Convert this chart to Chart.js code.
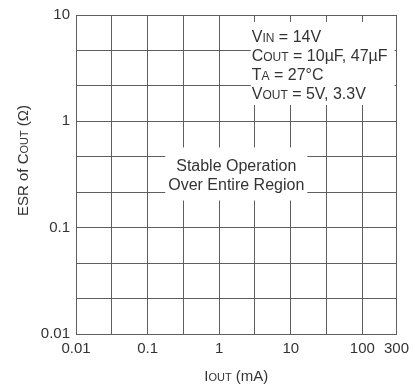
<!DOCTYPE html>
<html>
<head>
<meta charset="utf-8">
<script src="https://cdn.jsdelivr.net/npm/chart.js@4/dist/chart.umd.min.js"></script>
<style>
  html, body { margin: 0; padding: 0; background: #fff; }
  #wrap { width: 415px; height: 386px; }
</style>
</head>
<body>
<div id="wrap"><canvas id="c" width="415" height="386"></canvas></div>
<script>
// ---- data ----
const xTicks = [0.01, 0.0316, 0.1, 0.316, 1, 3.16, 10, 31.6, 100, 300];
const xTickLabels = ['0.01', '', '0.1', '', '1', '', '10', '', '100', '300'];
const yTicks = [0.01, 0.0215, 0.0464, 0.1, 0.215, 0.464, 1, 2.15, 4.64, 10];
const yTickLabels = ['0.01', '', '', '0.1', '', '', '1', '', '', '10'];
const xMin = 0.01, xMax = 300;
const yMin = 0.01, yMax = 10;

// text runs: [text, smallCaps]
const xTitle = [['I', 0], ['OUT', 1], [' (mA)', 0]];
const yTitle = [['ESR of C', 0], ['OUT', 1], [' (\u03A9)', 0]];
const conditions = [
  [['V', 0], ['IN', 1], [' = 14V', 0]],
  [['C', 0], ['OUT', 1], [' = 10\u00B5F, 47\u00B5F', 0]],
  [['T', 0], ['A', 1], [' = 27\u00B0C', 0]],
  [['V', 0], ['OUT', 1], [' = 5V, 3.3V', 0]]
];
const regionLabel = ['Stable Operation', 'Over Entire Region'];
// anchor of the conditions block in data units (mA, ohm)
const condAnchor = { x: 2.85, y: 5.58 };

const FAMILY = '"Liberation Sans", Arial, Helvetica, sans-serif';
const TEXT = '#333333';
const GRID = '#5e5e5e';

function fontFor(small, big) {
  if (big) return (small ? '12px ' : '16px ') + FAMILY;
  return (small ? '11px ' : '15px ') + FAMILY;
}
function runsWidth(ctx, runs, big) {
  let w = 0;
  for (const [t, s] of runs) { ctx.font = fontFor(s, big); w += ctx.measureText(t).width; }
  return w;
}
function drawRuns(ctx, runs, x, y, align, big) {
  const w = runsWidth(ctx, runs, big);
  let cx = align === 'center' ? x - w / 2 : x;
  ctx.textAlign = 'left';
  ctx.textBaseline = 'alphabetic';
  for (const [t, s] of runs) {
    ctx.font = fontFor(s, big);
    ctx.fillText(t, cx, y);
    cx += ctx.measureText(t).width;
  }
  return w;
}

const annotations = {
  id: 'annotations',
  afterDraw(chart) {
    const ctx = chart.ctx;
    const xs = chart.scales.x, ys = chart.scales.y;
    const area = chart.chartArea;
    ctx.save();
    ctx.fillStyle = TEXT;

    // conditions block
    const lx = xs.getPixelForValue(condAnchor.x);
    const by = ys.getPixelForValue(condAnchor.y);
    let maxW = 0;
    conditions.forEach(r => { maxW = Math.max(maxW, runsWidth(ctx, r, true)); });
    ctx.fillStyle = '#ffffff';
    ctx.fillRect(lx - 1, by - 20, maxW + 8, 19 * 3 + 26);
    ctx.fillStyle = TEXT;
    conditions.forEach((r, i) => drawRuns(ctx, r, lx, by + i * 19, 'left', true));

    // region label
    const cx = (area.left + area.right) / 2;
    const cy = (area.top + area.bottom) / 2;
    ctx.font = fontFor(0, true);
    let rw = 0;
    regionLabel.forEach(t => { rw = Math.max(rw, ctx.measureText(t).width); });
    ctx.fillStyle = '#ffffff';
    ctx.fillRect(cx - rw / 2 - 3, cy - 27, rw + 6, 53);
    ctx.fillStyle = TEXT;
    ctx.textAlign = 'center';
    ctx.textBaseline = 'alphabetic';
    regionLabel.forEach((t, i) => ctx.fillText(t, cx, cy - 4 + i * 19));

    // axis titles
    drawRuns(ctx, xTitle, cx, 381, 'center', false);
    ctx.translate(27.5, 160.5);
    ctx.rotate(-Math.PI / 2);
    drawRuns(ctx, yTitle, 0, 0, 'center', false);
    ctx.restore();
  }
};

function axis(ticks, labels, min, max) {
  return {
    type: 'logarithmic',
    min: min, max: max,
    afterBuildTicks: (s) => { s.ticks = ticks.map(v => ({ value: v })); },
    ticks: {
      autoSkip: false, maxRotation: 0, minRotation: 0,
      color: TEXT,
      font: { family: FAMILY, size: 15 },
      callback: (v, i) => labels[i],
    },
    grid: { color: GRID, lineWidth: 1, drawTicks: false },
    border: { display: true, color: GRID, width: 1 }
  };
}

const xScale = axis(xTicks, xTickLabels, xMin, xMax);
xScale.ticks.padding = 6;
xScale.afterFit = (s) => { s.height = 52; };
const yScale = axis(yTicks, yTickLabels, yMin, yMax);
yScale.ticks.padding = 6;
yScale.afterFit = (s) => { s.width = 76; };

new Chart(document.getElementById('c'), {
  type: 'scatter',
  data: { datasets: [] },
  options: {
    responsive: false,
    devicePixelRatio: 1,
    animation: false,
    layout: { padding: { left: 0, top: 10, right: 16, bottom: 0 } },
    plugins: { legend: { display: false }, tooltip: { enabled: false } },
    scales: { x: xScale, y: yScale }
  },
  plugins: [annotations]
});
</script>
</body>
</html>
